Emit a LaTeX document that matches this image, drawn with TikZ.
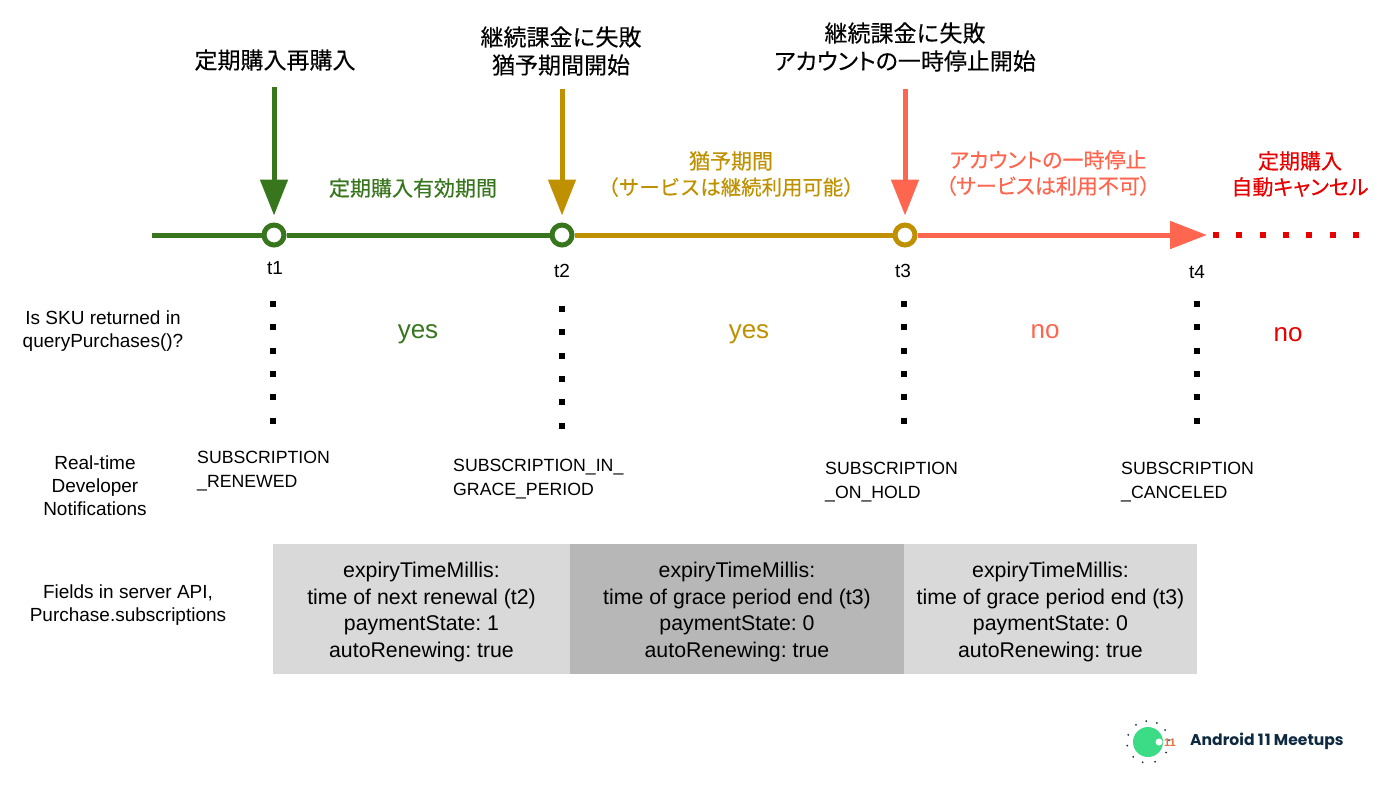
\documentclass[tikz,border=0pt]{standalone}
\usepackage{fontspec}
\usepackage{tikz}
\usetikzlibrary{arrows.meta}
\setmainfont{Liberation Sans}
\newfontfamily\cjk[FakeBold=0.15]{Noto Sans CJK JP}
\newfontfamily\cjkp[FakeBold=0.15,RawFeature=+palt]{Noto Sans CJK JP}
\newfontfamily\cjkm[FakeBold=0.35]{Noto Sans CJK JP}
\newfontfamily\cjkmp[FakeBold=0.35,RawFeature=+palt]{Noto Sans CJK JP}
\newfontfamily\logofont{Poppins}
\definecolor{activegreen}{RGB}{56, 118, 29}
\definecolor{gracegold}{RGB}{191, 144, 0}
\definecolor{holdsalmon}{RGB}{255, 102, 80}
\definecolor{cancelred}{RGB}{230, 0, 0}
\definecolor{lightbox}{RGB}{217, 217, 217}
\definecolor{darkbox}{RGB}{183, 183, 183}
\definecolor{logogreen}{RGB}{60, 220, 135}
\definecolor{logonavy}{RGB}{15, 42, 64}
\definecolor{logoorange}{RGB}{230, 110, 60}
\frenchspacing
\tikzset{
	eventtext/.style={font=\cjk\fontsize{23}{28}\selectfont, align=center, inner sep=0pt},
	periodtext/.style={font=\cjkm\fontsize{21}{26}\selectfont, align=center, inner sep=0pt},
	plaintext/.style={font=\fontsize{19}{23}\selectfont, align=center, inner sep=0pt},
	notetext/.style={font=\fontsize{17.7}{23.5}\selectfont, align=left, inner sep=0pt, anchor=west},
	answertext/.style={font=\fontsize{26}{30}\selectfont, inner sep=0pt},
	timenode/.style={circle, draw=#1, fill=white, line width=5pt, minimum size=20pt, inner sep=0pt},
	eventarrow/.style={draw=#1, line width=5pt, -{Triangle[length=36pt,width=27pt,fill=#1]}, shorten >=7pt},
	fieldbox/.style={fill=#1, minimum height=130pt, inner sep=0pt, align=center, font=\fontsize{21.3}{26.5}\selectfont},
	dotline/.style={line width=6pt, dash pattern=on 6pt off 17.3pt}
}
\begin{document}
\begin{tikzpicture}[x=1pt, y=-1pt]
	\useasboundingbox (0,0) rectangle (1400,788);
	% Time line
	\node[timenode=activegreen] (t1) at (274,235) {};
	\node[timenode=activegreen] (t2) at (562,235) {};
	\node[timenode=gracegold] (t3) at (905,235) {};
	\coordinate (linestart) at (152,235);
	\coordinate (lineend) at (1207,235);
	\coordinate (dotstart) at (1213,235);
	\coordinate (dotend) at (1361,235);
	\draw[activegreen, line width=5pt] (linestart) -- (t1);
	\draw[activegreen, line width=5pt] (t1) -- (t2);
	\draw[gracegold, line width=5pt] (t2) -- (t3);
	\draw[holdsalmon, line width=5pt, -{Triangle[length=37pt,width=27pt,fill=holdsalmon]}] (t3) -- (lineend);
	\draw[cancelred, dotline] (dotstart) -- (dotend);
	% Event arrows
	\coordinate (arrowa) at (274,87);
	\coordinate (arrowb) at (562,89);
	\coordinate (arrowc) at (905,89);
	\draw[eventarrow=activegreen] (arrowa) -- (t1);
	\draw[eventarrow=gracegold] (arrowb) -- (t2);
	\draw[eventarrow=holdsalmon] (arrowc) -- (t3);
	\node[eventtext] (eventa) at (275,60) {定期購入再購入};
	\node[eventtext] (eventb) at (561,51) {継続課金に失敗\\猶予期間開始};
	\node[eventtext] (eventc) at (905,47) {継続課金に失敗\\{\cjkp アカウントの一時停止開始}};
	% Period labels
	\node[periodtext, text=activegreen] (perioda) at (413,188) {定期購入有効期間};
	\node[periodtext, text=gracegold] (periodb) at (731,174) {猶予期間\\{\fontsize{20.4}{26}\selectfont （サービスは継続利用可能）}};
	\node[periodtext, text=holdsalmon] (periodc) at (1048,173) {{\cjkmp アカウントの一時停止}\\{\cjkmp （サービスは利用不可）}};
	\node[periodtext, text=cancelred] (periodd) at (1300,174) {定期購入\\{\cjkmp 自動キャンセル}};
	% Time labels and dotted guides
	\foreach \name/\lx/\x/\y/\top in {1/275/273/268/304, 2/562/562/271/309, 3/903/904/271/304, 4/1197/1197/272/304} {
		\node[plaintext] (label\name) at (\lx,\y) {t\name};
		\coordinate (guidetop\name) at (\x,\top-3);
		\coordinate (guidebottom\name) at (\x,\top+121);
		\draw[black, dotline] (guidetop\name) -- (guidebottom\name);
	}
	% Row titles
	\node[plaintext] (rowsku) at (103,331) {Is SKU returned in\\queryPurchases()?};
	\node[plaintext] (rowrtdn) at (95,486) {Real-time\\Developer\\Notifications};
	\node[plaintext] (rowapi) at (128,605) {Fields in server API,\\Purchase.subscriptions};
	\node[answertext, text=activegreen] (answera) at (418,334) {yes};
	\node[answertext, text=gracegold] (answerb) at (749,334) {yes};
	\node[answertext, text=holdsalmon] (answerc) at (1045,332) {no};
	\node[answertext, text=cancelred] (answerd) at (1288,335) {no};
	\node[notetext] (notea) at (197,471) {SUBSCRIPTION\\\_RENEWED};
	\node[notetext] (noteb) at (453,479) {SUBSCRIPTION\_IN\_\\GRACE\_PERIOD};
	\node[notetext] (notec) at (825,482) {SUBSCRIPTION\\\_ON\_HOLD};
	\node[notetext] (noted) at (1121,482) {SUBSCRIPTION\\\_CANCELED};
	% Server API fields
	\node[fieldbox=lightbox, minimum width=297pt] (boxa) at (421.5,609) {\rule{0pt}{21pt}expiryTimeMillis:\\time of next renewal (t2)\\paymentState: 1\\autoRenewing: true};
	\node[fieldbox=darkbox, minimum width=334pt] (boxb) at (737,609) {\rule{0pt}{21pt}expiryTimeMillis:\\time of grace period end (t3)\\paymentState: 0\\autoRenewing: true};
	\node[fieldbox=lightbox, minimum width=293pt] (boxc) at (1050.5,609) {\rule{0pt}{21pt}expiryTimeMillis:\\time of grace period end (t3)\\paymentState: 0\\autoRenewing: true};
	% Logo
	\node[circle, fill=logogreen, minimum size=30pt, inner sep=0pt] (logodisc) at (1148,742) {};
	\node[circle, fill=white, minimum size=7pt, inner sep=0pt] (logohole) at (1159,742) {};
	\node[font=\bfseries\fontsize{11}{11}\selectfont, text=logoorange, inner sep=0pt] (logoeleven) at (1170,743) {11};
	\foreach \a in {5,35,65,95,125,160,190,225,255,290,330} {
		\fill[logonavy] (1148,742) ++(\a:21pt) circle (1pt);
	}
	\node[font=\logofont\bfseries\fontsize{15.6}{18}\selectfont, text=logonavy, inner sep=0pt, anchor=west] (logotext) at (1190,741) {Android 1\kern1pt 1 Meetups};
\end{tikzpicture}
\end{document}
